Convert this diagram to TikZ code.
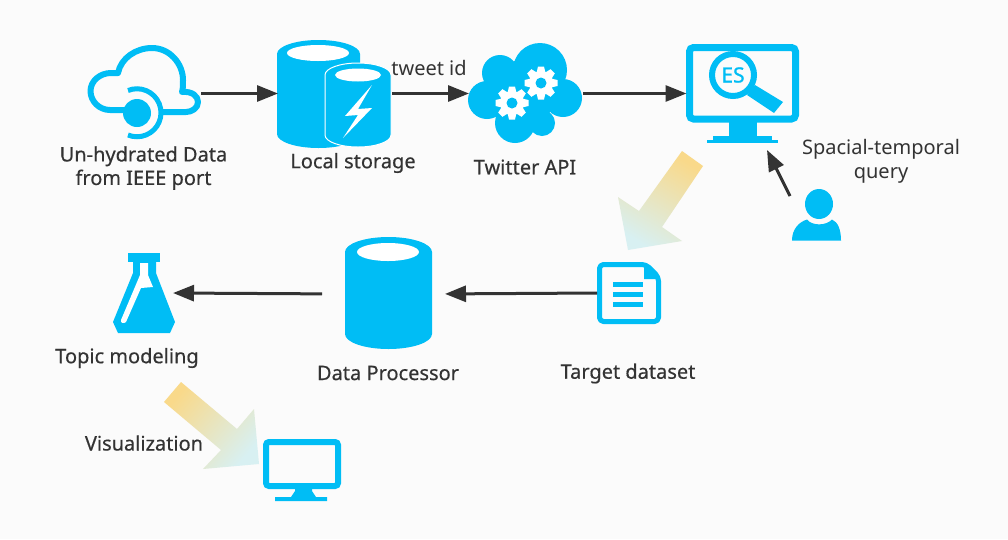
\documentclass[tikz,border=0pt]{standalone}
\usepackage{fontspec}
\setmainfont{Noto Sans}
\newfontfamily\medfont[FakeBold=0.4]{Noto Sans}
\newfontfamily\esfont[FakeBold=1]{Noto Sans}
\usetikzlibrary{arrows.meta}
\definecolor{iconblue}{HTML}{00BDF5}
\definecolor{pagebg}{HTML}{FBFBFB}
\definecolor{inkdark}{HTML}{333333}
\definecolor{sunny}{HTML}{F9D98A}
\definecolor{icy}{HTML}{D8F0F2}
\tikzset{
  iconbox/.style={inner sep=0pt,outer sep=0pt,minimum width=#1},
  flowarrow/.style={draw=inkdark,line width=3pt,-{Triangle[length=21pt,width=16pt]}},
  boldlabel/.style={inner sep=0pt,text=inkdark,font=\fontsize{20}{23.5}\medfont,align=center},
  thinlabel/.style={inner sep=0pt,text=inkdark,font=\fontsize{20}{24}\selectfont,align=center},
  bluefill/.style={fill=iconblue,draw=none},
  blueline/.style={draw=iconblue,fill=none},
  widearrow/.style={top color=sunny,bottom color=icy,draw=none}
}
\newcommand{\gearicon}[2]{%
  \begin{scope}[shift={(#1,#2)}]
    \fill[white] (0,0) circle (12);
    \foreach \a in {0,45,...,315}{\fill[white,rotate=\a] (-3,-16.5) -- (3,-16.5) -- (4.5,-10) -- (-4.5,-10) -- cycle;}
    \fill[iconblue] (0,0) circle (5.5);
  \end{scope}}
\begin{document}
\begin{tikzpicture}[x=1pt,y=-1pt]
\useasboundingbox (0,0) rectangle (1008,539);
\fill[pagebg] (0,0) rectangle (1008,539);

% icon anchors
\node[iconbox=114pt,minimum height=98pt] (cloud) at (144,93.5) {};
\node[iconbox=114pt,minimum height=108pt] (storage) at (335,94) {};
\node[iconbox=114pt,minimum height=99pt] (twitter) at (526,93) {};
\node[iconbox=114pt,minimum height=99pt] (es) at (743.5,93) {};
\node[iconbox=49pt,minimum height=52pt] (person) at (816.5,215) {};
\node[iconbox=64pt,minimum height=62pt] (doc) at (629,293) {};
\node[iconbox=87pt,minimum height=112pt] (proc) at (388.5,294) {};
\node[iconbox=60pt,minimum height=80pt] (flask) at (143,293) {};
\node[iconbox=78pt,minimum height=62pt] (screen) at (302,470) {};
\coordinate (esfoot) at (767,150);
\coordinate (personhead) at (790,196);

% cloud outline
\draw[blueline,line width=6pt,line cap=butt,line join=round]
 (125,110) -- (110,110) .. controls (99,110) and (90.5,101) .. (90.5,91)
 .. controls (90.5,81) and (100,73) .. (111,73) -- (118,73)
 .. controls (121,58) and (136,48) .. (152,48)
 .. controls (170,48) and (183,64) .. (183,80)
 .. controls (183,85) and (183,89) .. (182,92)
 .. controls (192,91) and (198,96) .. (198,102)
 .. controls (198,108) and (192,112) .. (186,112) -- (160,112);
\draw[blueline,line width=5pt] (128,90.5) arc[start angle=-112,end angle=112,radius=24];
\fill[iconblue] (137,113) circle (14);

% storage
\fill[iconblue] (277,54) arc[start angle=180,end angle=360,x radius=41.5,y radius=14] -- (360,134) arc[start angle=0,end angle=180,x radius=41.5,y radius=14] -- cycle;
\fill[white] (318,53) ellipse (31 and 8);
\fill[iconblue,draw=white,line width=1pt] (325,75) arc[start angle=180,end angle=360,x radius=33,y radius=12] -- (391,135) arc[start angle=0,end angle=180,x radius=33,y radius=12] -- cycle;
\fill[white] (358,75) ellipse (23 and 6.5);
\fill[white] (372,85) -- (345,116) -- (358,115) -- (343,138) -- (372,108) -- (358,109) -- cycle;

% twitter cloud
\fill[iconblue] (540,70) circle (27) (500,73) circle (18) (487,100) circle (19) (563,98) circle (19) (515,123) circle (20) (542,123) circle (13) (523,93) circle (33);
\gearicon{541}{83}
\gearicon{512}{103}

% ES monitor
\draw[blueline,line width=7pt,rounded corners=4pt] (689.5,47.5) rectangle (795.5,119);
\fill[iconblue] (729,122) rectangle (757,137);
\fill[iconblue] (713,136) rectangle (772,140.5);
\fill[iconblue] (707,140) rectangle (778,143);
\draw[blueline,line width=6pt] (733,75) circle (21);
\fill[iconblue] (755,85) -- (783,102) -- (774,113) -- (747,95) -- cycle;
\node[inner sep=0pt,text=iconblue,font=\fontsize{21}{24}\esfont] (eslabel) at (733,75) {ES};

% person
\fill[iconblue] (819,204) ellipse (14 and 15);
\fill[iconblue] (792,240.5) .. controls (792,229) and (799,222) .. (807,219.5) .. controls (812,226) and (826,226) .. (832,219.5) .. controls (838,222) and (841,230) .. (841,240.5) -- cycle;

% document
\draw[blueline,line width=5pt,rounded corners=4pt,line join=round] (599.5,264.5) -- (646,264.5) -- (658.5,277) -- (658.5,321.5) -- (599.5,321.5) -- cycle;
\fill[iconblue] (644,263) -- (660,279) -- (644,279) -- cycle;
\fill[iconblue] (613,282) rectangle (643,287);
\fill[iconblue] (613,292) rectangle (643,297);
\fill[iconblue] (613,302) rectangle (643,307);

% processor cylinder
\fill[iconblue] (345,252) arc[start angle=180,end angle=360,x radius=43.5,y radius=15] -- (432,334) arc[start angle=0,end angle=180,x radius=43.5,y radius=15] -- cycle;
\fill[white] (388,252) ellipse (31 and 9);

% flask
\fill[iconblue] (128,253) rectangle (160,262);
\fill[iconblue] (133,262) -- (156,262) -- (156,273) -- (175,322) -- (170,333) -- (118,333) -- (113,322) -- (133,273) -- cycle;
\fill[white] (140,263) -- (148,263) -- (148,275) -- (153,287) -- (141,288) -- (126,322) .. controls (124,324) and (120,323) .. (121,320) -- (140,275) -- cycle;

% small monitor
\draw[blueline,line width=6pt,rounded corners=3pt] (266,442) rectangle (338,486);
\fill[iconblue] (295,488) -- (312,488) -- (312,491) -- (316,497) -- (327,497) -- (327,501) -- (275,501) -- (275,497) -- (291,497) -- (295,491) -- cycle;

% wide gradient arrows
\shade[widearrow,shading angle=-30] (682,151) -- (703,166) -- (662,227) -- (682,241) -- (628,250) -- (618,197) -- (639,211) -- cycle;
\shade[widearrow,shading angle=50] (181,382) -- (164,402) -- (221,450) -- (203,469) -- (259,464) -- (254,409) -- (237,429) -- cycle;

% connectors
\draw[flowarrow] (cloud.east) -- (storage.west |- cloud.east);
\draw[flowarrow] (storage.east |- cloud.east) -- (twitter.west |- cloud.east);
\draw[flowarrow] (twitter.east |- cloud.east) -- (es.west |- cloud.east);
\draw[flowarrow] (personhead) -- (esfoot);
\draw[flowarrow,shorten >=13pt] (doc.west) -- (proc.east);
\draw[flowarrow,shorten <=23pt] (proc.west) -- (flask.east);

% labels
\node[boldlabel] (lcloud) at (143.5,168) {Un-hydrated Data\\from IEEE port};
\node[boldlabel] (lstorage) at (353,163) {Local storage};
\node[thinlabel] (ltweet) at (429,68) {tweet id};
\node[boldlabel] (ltwitter) at (525,167) {Twitter API};
\node[thinlabel] (lquery) at (881,161.5) {Spacial-temporal\\query};
\node[boldlabel] (ltopic) at (127,358) {Topic modeling};
\node[boldlabel] (lproc) at (388,373) {Data Processor};
\node[boldlabel] (ltarget) at (628,373.5) {Target dataset};
\node[boldlabel] (lvis) at (144,443) {Visualization};
\end{tikzpicture}
\end{document}
